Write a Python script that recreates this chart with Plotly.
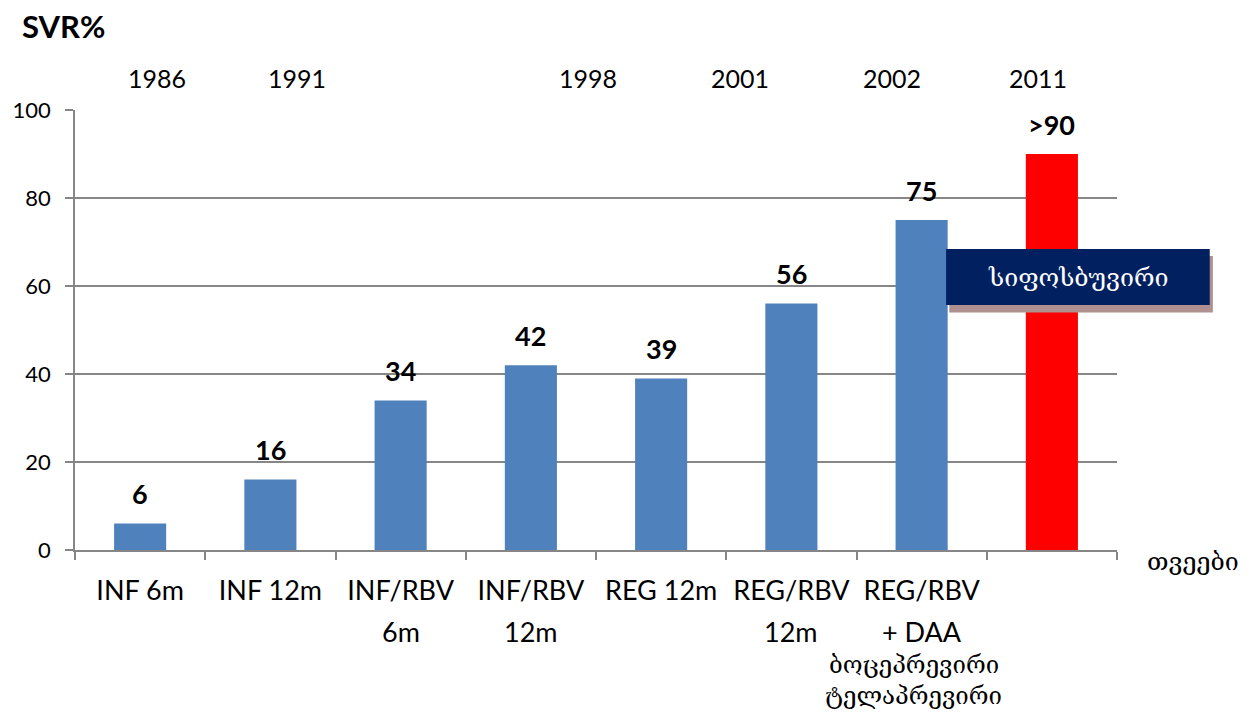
import plotly.graph_objects as go

# data
categories = ["INF 6m", "INF 12m", "INF/RBV 6m", "INF/RBV 12m", "REG 12m",
              "REG/RBV 12m", "REG/RBV + DAA", "IFN-free"]
cat_line1 = ["INF 6m", "INF 12m", "INF/RBV", "INF/RBV", "REG 12m", "REG/RBV", "REG/RBV", ""]
cat_line2 = ["", "", "6m", "12m", "", "12m", "+ DAA", ""]
svr_values = [6, 16, 34, 42, 39, 56, 75, 90]
value_labels = ["6", "16", "34", "42", "39", "56", "75", "&gt;90"]
bar_colors = ["#4F81BD"] * 7 + ["#FF0000"]

years = ["1986", "1991", "1998", "2001", "2002", "2011"]
year_x = [0.079, 0.213, 0.492, 0.638, 0.784, 0.924]

y_ticks = [0, 20, 40, 60, 80, 100]
daa_names = ["ბოცეპრევირი", "ტელაპრევირი"]
callout_text = "სიფოსბუვირი"
months_text = "თვეები"

GEO_FONT = "DejaVu Serif, DejaVu Sans, serif"
MAIN_FONT = "Lato, Carlito, Open Sans, sans-serif"


def add_text(text, x, y, size, family=MAIN_FONT, color="black", xref="paper", yref="paper",
             xanchor="center", yshift=0):
    fig.add_annotation(x=x, y=y, xref=xref, yref=yref, text=text, showarrow=False,
                       xanchor=xanchor, yanchor="middle", yshift=yshift,
                       font=dict(family=family, size=size, color=color))


fig = go.Figure(go.Bar(
    x=categories,
    y=svr_values,
    marker=dict(color=bar_colors, line=dict(width=0)),
    hoverinfo="y",
))

# value labels above bars
for cat, val, lab in zip(categories, svr_values, value_labels):
    add_text("<b>" + lab + "</b>", cat, val, 27, xref="x", yref="y", yshift=30)

# second line of category labels
for cat, txt in zip(categories, cat_line2):
    if txt:
        add_text(txt, cat, -0.186, 27, xref="x")

# year labels along the top
for yr, xp in zip(years, year_x):
    add_text(yr, xp, 1.073, 25)

add_text("<b>SVR%</b>", -0.053, 1.19, 31, xanchor="left")
add_text(months_text, 1.073, -0.027, 25, family=GEO_FONT)
for i, name in enumerate(daa_names):
    add_text(name, 0.805, -0.261 - 0.071 * i, 24, family=GEO_FONT)

# callout box with shadow
fig.add_shape(type="rect", xref="paper", yref="paper", x0=0.839, x1=1.092, y0=0.54, y1=0.668,
              fillcolor="#AE9090", line=dict(width=0), layer="above")
fig.add_shape(type="rect", xref="paper", yref="paper", x0=0.836, x1=1.089, y0=0.557, y1=0.684,
              fillcolor="#002060", line=dict(width=0), layer="above")
add_text(callout_text, 0.9635, 0.62, 25, family=GEO_FONT, color="white")

# the page body adds an 8px margin, so the figure is trimmed by that much
fig.update_layout(
    width=1241, height=701,
    margin=dict(l=67, r=132, t=102, b=159),
    paper_bgcolor="white", plot_bgcolor="white",
    bargap=0.6,
    showlegend=False,
    font=dict(family=MAIN_FONT, size=22, color="black"),
)
fig.update_xaxes(
    type="category", range=[-0.5, len(categories) - 0.5], automargin=False,
    categoryorder="array", categoryarray=categories,
    tickvals=categories, ticktext=cat_line1,
    tickson="boundaries", ticks="outside", ticklen=8, tickcolor="#868686", tickwidth=1.5,
    showline=True, linecolor="#868686", linewidth=1.5,
    tickfont=dict(family=MAIN_FONT, size=27), ticklabelstandoff=16,
    showgrid=False,
)
fig.update_yaxes(
    range=[0, 100], tickvals=y_ticks, ticks="outside", ticklen=8, automargin=False,
    tickcolor="#868686", tickwidth=1.5,
    showline=True, linecolor="#868686", linewidth=1.5,
    showgrid=True, gridcolor="#868686", gridwidth=1.5,
    zeroline=False, tickfont=dict(family=MAIN_FONT, size=22), ticklabelstandoff=10,
)

fig.write_html("out.html")
